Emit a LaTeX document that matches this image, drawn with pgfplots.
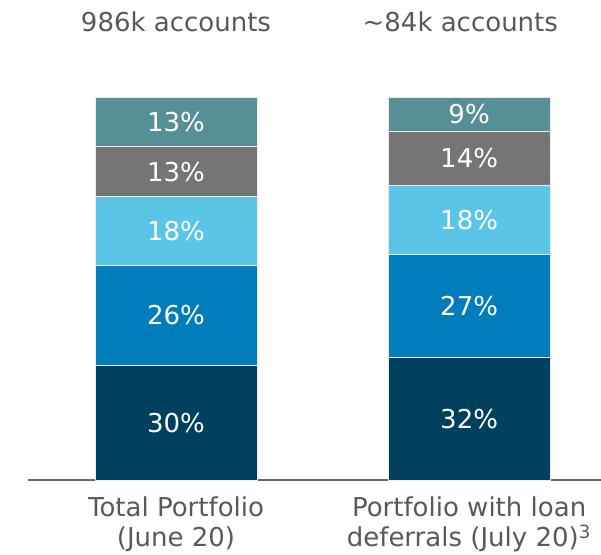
\documentclass[border=0pt]{standalone}
\usepackage{fontspec}
\setmainfont{DejaVu Sans}
\usepackage{pgfplots}
\pgfplotsset{compat=1.18}

\definecolor{navy}{HTML}{00405F}
\definecolor{midblue}{HTML}{007DBA}
\definecolor{lightblue}{HTML}{5BC5E8}
\definecolor{midgray}{HTML}{757575}
\definecolor{teal}{HTML}{568F96}
\definecolor{textgray}{HTML}{595959}

\pgfplotsset{
    frame/.style={
        at={(0,0)}, anchor=south west,
        width=286.5pt, height=191.5pt, scale only axis,
        xmin=-0.505, xmax=1.45, ymin=0, ymax=100,
        clip=false,
    },
}

\begin{document}
\begin{tikzpicture}
\useasboundingbox (-14pt,-37pt) rectangle (286.5pt,240pt);
\begin{axis}[
    frame,
    ybar stacked, bar width=81pt,
    axis x line*=bottom, axis y line=none,
    x axis line style={-, draw=textgray!90, line width=1pt},
    xtick={0,1},
    xticklabels={Total Portfolio\\(June 20), Portfolio with loan\\deferrals (July 20)\textsuperscript{3}},
    xtick style={draw=none},
    xticklabel style={align=center, text=textgray, font=\fontsize{13}{15}\selectfont, yshift=-5pt},
]

% bottom to top
\addplot[fill=navy, draw=white!85!gray, line width=0.3pt] coordinates {(0,30) (1,32)};
\addplot[fill=midblue, draw=white!85!gray, line width=0.3pt] coordinates {(0,26) (1,27)};
\addplot[fill=lightblue, draw=white!85!gray, line width=0.3pt] coordinates {(0,18) (1,18)};
\addplot[fill=midgray, draw=white!85!gray, line width=0.3pt] coordinates {(0,13) (1,14)};
\addplot[fill=teal, draw=white!85!gray, line width=0.3pt] coordinates {(0,13) (1,9)};

\node[text=textgray, font=\fontsize{13}{15}\selectfont] at (axis cs:0,119.6) {986k accounts};
\node[text=textgray, font=\fontsize{13}{15}\selectfont] at (axis cs:0.97,119.6) {\textasciitilde 84k accounts};
\end{axis}

% segment labels at segment midpoints, same geometry
\begin{axis}[frame, hide axis]
\addplot[only marks, mark=none, point meta=explicit symbolic,
    nodes near coords,
    every node near coord/.append style={anchor=center, text=white, font=\fontsize{13}{15}\selectfont}]
    coordinates {
    (0,15)[30\%] (0,43)[26\%] (0,65)[18\%] (0,80.5)[13\%] (0,93.5)[13\%]
    (1,16)[32\%] (1,45.5)[27\%] (1,68)[18\%] (1,84)[14\%] (1,95.5)[9\%]
};
\end{axis}
\end{tikzpicture}
\end{document}
